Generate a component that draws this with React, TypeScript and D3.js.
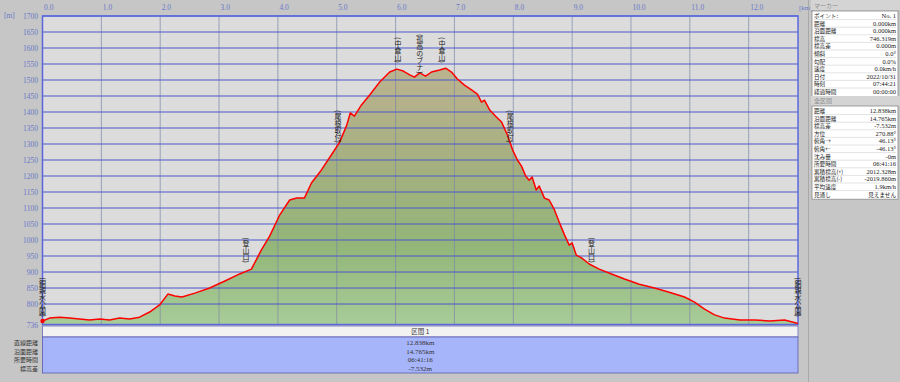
import React from "react";
import * as d3 from "d3";

const distKm = [0, 0.12, 0.29, 0.46, 0.63, 0.8, 0.97, 1.14, 1.31, 1.48, 1.65, 1.82, 1.99, 2.13, 2.25, 2.37, 2.59, 2.84, 3.1, 3.35, 3.55, 3.72, 3.86, 4.03, 4.2, 4.32, 4.45, 4.57, 4.74, 4.93, 5.05, 5.17, 5.23, 5.3, 5.42, 5.56, 5.73, 5.9, 6.02, 6.13, 6.24, 6.32, 6.41, 6.51, 6.61, 6.75, 6.85, 6.95, 7.05, 7.17, 7.29, 7.39, 7.46, 7.51, 7.6, 7.7, 7.8, 7.9, 7.99, 8.07, 8.14, 8.21, 8.27, 8.32, 8.39, 8.44, 8.53, 8.61, 8.7, 8.78, 8.87, 8.95, 9.0, 9.07, 9.16, 9.29, 9.46, 9.67, 9.89, 10.14, 10.4, 10.65, 10.91, 11.08, 11.25, 11.42, 11.59, 11.85, 12.1, 12.36, 12.61, 12.838];
const elevM = [747, 756, 759, 756, 753, 750, 753, 750, 756, 753, 759, 775, 797, 831, 825, 822, 834, 850, 872, 894, 909, 969, 1012, 1078, 1125, 1131, 1131, 1178, 1219, 1272, 1306, 1359, 1397, 1387, 1422, 1453, 1494, 1525, 1534, 1528, 1516, 1509, 1522, 1512, 1525, 1531, 1537, 1525, 1503, 1484, 1469, 1456, 1431, 1437, 1406, 1387, 1369, 1328, 1281, 1250, 1231, 1200, 1187, 1197, 1156, 1169, 1131, 1125, 1094, 1056, 1016, 984, 991, 953, 944, 925, 909, 894, 878, 862, 850, 837, 822, 806, 784, 766, 756, 750, 750, 747, 750, 739];

const xTicks = [0, 1, 2, 3, 4, 5, 6, 7, 8, 9, 10, 11, 12];
const yTicks = [736, 800, 850, 900, 950, 1000, 1050, 1100, 1150, 1200, 1250, 1300, 1350, 1400, 1450, 1500, 1550, 1600, 1650, 1700];

const waypointNames = ["(銅親水公園)", "(登山口)", "(尾根取付)", "(中倉山)", "(孤高のブナ)", "(中倉山)", "(尾根取付)", "(登山口)", "(銅親水公園)"];
const waypointKm = [0, 3.46, 5.02, 6.04, 6.41, 6.79, 7.95, 9.33, 12.838];
const waypointTopM = [884, 1009, 1406, 1634, 1644, 1634, 1406, 1009, 884];

const sectionRowLabels = ["直線距離", "沿面距離", "所要時間", "標高差"];
const sectionRowValues = ["12.838km", "14.765km", "06:41:16", "-7.532m"];

const markerLabels = ["ポイント:", "距離", "沿面距離", "標高", "標高差", "傾斜", "勾配", "速度", "日付", "時刻", "経過時間"];
const markerValues = ["No. 1", "0.000km", "0.000km", "746.319m", "0.000m", "0.0°", "0.0%", "0.0km/h", "2022/10/31", "07:44:21", "00:00:00"];
const totalLabels = ["距離", "沿面距離", "標高差", "方位", "俯角→", "俯角←", "沈み量", "所要時間", "累積標高(+)", "累積標高(-)", "平均速度", "見通し"];
const totalValues = ["12.838km", "14.765km", "-7.532m", "270.88°", "46.13°", "-46.13°", "-0m", "06:41:16", "2012.328m", "-2019.860m", "1.9km/h", "見えません"];

const W = 900;
const H = 382;
const PL = 42.5;
const PR = 798;
const PT = 16;
const PB = 324.5;
const JP = "'Noto Sans CJK JP', sans-serif";
const NUM = "'Liberation Serif', 'DejaVu Serif', serif";

export default function App() {
  const x = d3.scaleLinear().domain([0, 12.838]).range([PL, PR]);
  const y = d3.scaleLinear().domain([736, 1700]).range([PB, PT]);
  const pts = distKm.map((d, i) => [d, elevM[i]] as [number, number]);
  const area = d3.area<[number, number]>().x(d => x(d[0])).y0(PB).y1(d => y(d[1]))(pts) || "";
  const line = d3.line<[number, number]>().x(d => x(d[0])).y(d => y(d[1]))(pts) || "";

  const tableTop = 326;
  const headerH = 11;
  const rowH = 8.5;
  const blueTop = tableTop + headerH;
  const blueBottom = 373;

  const panelX = 812;
  const panelW = 86;
  const mRowH = 7.6;
  const mTop = 12;
  const tTop = 107;

  return (
    <svg width={W} height={H} style={{ position: "absolute", left: 0, top: 0, display: "block" }}>
      <defs>
        <linearGradient id="fillGrad" gradientUnits="userSpaceOnUse" x1="0" y1={PT} x2="0" y2={PB}>
          <stop offset="0%" stopColor="#c2b794" />
          <stop offset="25%" stopColor="#b6b28c" />
          <stop offset="50%" stopColor="#a3b07e" />
          <stop offset="75%" stopColor="#93b679" />
          <stop offset="100%" stopColor="#a8cc98" />
        </linearGradient>
      </defs>
      <rect x={0} y={0} width={W} height={H} fill="#c6c6c6" />
      <rect x={PL} y={PT} width={PR - PL} height={PB - PT} fill="#dcdcdc" />
      <path d={area} fill="url(#fillGrad)" />
      {xTicks.map(t => (
        <line key={"vx" + t} x1={x(t)} x2={x(t)} y1={PT} y2={PB} stroke="#7c86a8" strokeWidth={0.7} />
      ))}
      {yTicks.map(t => (
        <line key={"hy" + t} x1={PL} x2={PR} y1={y(t)} y2={y(t)} stroke="#4a58cc" strokeWidth={1} />
      ))}
      <rect x={PL} y={PT} width={PR - PL} height={PB - PT} fill="none" stroke="#5a68e0" strokeWidth={1.5} />
      <path d={line} fill="none" stroke="#ff0000" strokeWidth={1.5} strokeLinejoin="round" />
      <circle cx={x(0)} cy={y(elevM[0])} r={2.2} fill="#ff0000" />
      {xTicks.map(t => (
        <text key={"tx" + t} x={x(t) + 1.5} y={10} fontSize={7.5} fill="#6a78c8" fontFamily={NUM}>{t.toFixed(1)}</text>
      ))}
      <text x={799} y={10} fontSize={7} fill="#6a78c8" fontFamily={NUM}>[km]</text>
      <text x={4} y={18} fontSize={7.5} fill="#6a78c8" fontFamily={NUM}>[m]</text>
      {yTicks.map(t => (
        <text key={"ty" + t} x={38} y={y(t) + 3} fontSize={7.5} fill="#6a78c8" textAnchor="end" fontFamily={NUM}>{t}</text>
      ))}
      {waypointNames.map((n, i) => (
        <text key={"wp" + i} x={x(waypointKm[i])} y={y(waypointTopM[i])} fontSize={7} fill="#1a1a1a" fontFamily={JP}
          style={{ writingMode: "vertical-rl", textOrientation: "mixed" } as any}>{n}</text>
      ))}
      {/* section table */}
      <rect x={PL} y={tableTop} width={PR - PL} height={headerH} fill="#f2f2f2" stroke="#6a6ab8" strokeWidth={0.8} />
      <text x={(PL + PR) / 2} y={tableTop + 8} fontSize={6.5} textAnchor="middle" fill="#333" fontFamily={JP}>区間 1</text>
      <rect x={PL} y={blueTop} width={PR - PL} height={blueBottom - blueTop} fill="#a6b4fa" stroke="#5a5ab0" strokeWidth={0.8} />
      {sectionRowLabels.map((l, i) => (
        <g key={"sr" + i}>
          <text x={38} y={blueTop + 8 + i * rowH} fontSize={6} textAnchor="end" fill="#333" fontFamily={JP}>{l}</text>
          <text x={(PL + PR) / 2} y={blueTop + 8 + i * rowH} fontSize={7} textAnchor="middle" fill="#333" fontFamily={NUM}>{sectionRowValues[i]}</text>
        </g>
      ))}
      {/* right panel */}
      <line x1={808.5} x2={808.5} y1={0} y2={H} stroke="#a8a8a8" strokeWidth={1} />
      <rect x={panelX - 1} y={0} width={W - panelX + 1} height={10} fill="#d4d4d4" />
      <text x={panelX + 2} y={7.5} fontSize={6} fill="#8a8a8a" fontFamily={JP}>マーカー</text>
      <rect x={panelX} y={mTop - 1} width={panelW} height={markerLabels.length * mRowH + 2} fill="#ffffff" stroke="#8a8a8a" strokeWidth={0.8} />
      {markerLabels.map((l, i) => (
        <g key={"ml" + i}>
          {i > 0 && <line x1={panelX + 2} x2={panelX + panelW - 2} y1={mTop + i * mRowH} y2={mTop + i * mRowH} stroke="#d0d0d0" strokeWidth={0.6} />}
          <text x={panelX + 2} y={mTop + i * mRowH + 6} fontSize={5.6} fill="#222" fontFamily={JP}>{l}</text>
          <text x={panelX + panelW - 2} y={mTop + i * mRowH + 6} fontSize={6.5} textAnchor="end" fill="#222" fontFamily={NUM}>{markerValues[i]}</text>
        </g>
      ))}
      <rect x={panelX - 1} y={96} width={W - panelX + 1} height={10} fill="#d4d4d4" />
      <text x={panelX + 2} y={103} fontSize={6} fill="#8a8a8a" fontFamily={JP}>全区間</text>
      <rect x={panelX} y={tTop - 1} width={panelW} height={totalLabels.length * mRowH + 2} fill="#ffffff" stroke="#8a8a8a" strokeWidth={0.8} />
      {totalLabels.map((l, i) => (
        <g key={"tl" + i}>
          {i > 0 && <line x1={panelX + 2} x2={panelX + panelW - 2} y1={tTop + i * mRowH} y2={tTop + i * mRowH} stroke="#d0d0d0" strokeWidth={0.6} />}
          <text x={panelX + 2} y={tTop + i * mRowH + 6} fontSize={5.6} fill="#222" fontFamily={JP}>{l}</text>
          <text x={panelX + panelW - 2} y={tTop + i * mRowH + 6} fontSize={i === 11 ? 5.6 : 6.5} textAnchor="end" fill="#222" fontFamily={i === 11 ? JP : NUM}>{totalValues[i]}</text>
        </g>
      ))}
    </svg>
  );
}
